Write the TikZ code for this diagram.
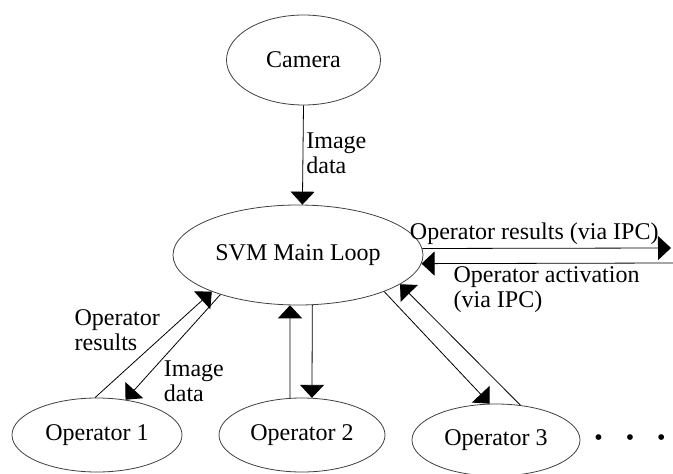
\documentclass[tikz,border=0pt]{standalone}
\usepackage{fontspec}
\setmainfont{Liberation Serif}
\usepackage{tikz}
\usetikzlibrary{arrows.meta,shapes.geometric}
\tikzstyle{blob} = [draw=black!75,ellipse,inner sep=0pt,font=\fontsize{24}{25}\selectfont]
\tikzstyle{lbl}  = [font=\fontsize{24}{25}\selectfont,align=left,inner sep=3pt]

\begin{document}
\begin{tikzpicture}[x=1pt,y=-1pt,->,>={Triangle[width=24pt,length=13pt]},line width=0.8pt]
\useasboundingbox (0,0) rectangle (673,474);

\node[blob,minimum width=154pt,minimum height=90pt]  (Cam)  at (303.5,60) {Camera};
\node[blob,minimum width=250pt,minimum height=100pt] (Loop) at (298,255)  {SVM Main Loop};
\node[blob,minimum width=170pt,minimum height=74pt]  (Op1)  at (97,435)   {Operator 1};
\node[blob,minimum width=166pt,minimum height=74pt]  (Op2)  at (302,435)  {Operator 2};
\node[blob,minimum width=168pt,minimum height=72pt]  (Op3)  at (496,440)  {Operator 3};
\node[lbl] (dots) at (630,440) {\textbullet\hspace{23pt}\textbullet\hspace{23pt}\textbullet};

\coordinate (ipcout) at (671,248);
\coordinate (ipcin)  at (673,263);

% camera and operators
\path
	(Cam.south) edge node[lbl,right,pos=0.48] {Image\\data} (Loop.85)
	(Op1.93) edge node[lbl,anchor=east,pos=0.636,xshift=-6pt] {Operator\\results} (Loop.203)
	(Loop.207) edge node[lbl,anchor=north west,pos=0.6,xshift=-3pt] {Image\\data} (Op1.51)
	(Op2.108) edge (Loop.261)
	(Loop.286) edge (Op2.75)
	(Loop.337) edge (Op3.100)
	(Op3.55) edge (Loop.344);

% IPC
\path
	(Loop.3) edge node[lbl,above,pos=0.45] {Operator results (via IPC)} (ipcout)
	(ipcin) edge node[lbl,anchor=north west,pos=0.886] {Operator activation\\(via IPC)} (Loop.356);

\end{tikzpicture}
\end{document}
